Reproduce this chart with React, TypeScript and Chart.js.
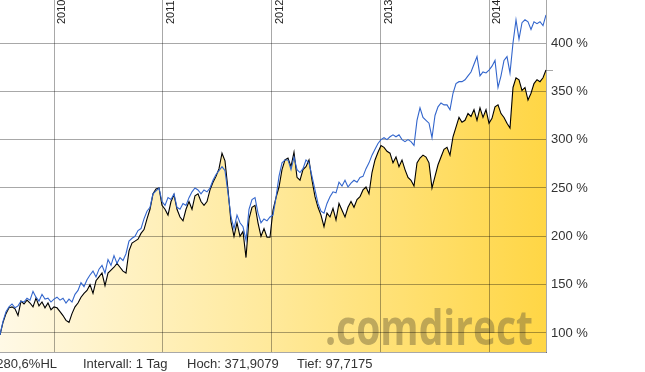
import React, { useEffect, useRef } from 'react';
import { Chart, registerables } from 'chart.js';

Chart.register(...registerables);

// ---- data ----
const yearTicks = [2010, 2011, 2012, 2013, 2014];
const yearLabels = ['2010', '2011', '2012', '2013', '2014'];
const percentTicks = [100, 150, 200, 250, 300, 350, 400];
const firstDate = 2009.504; // fractional year of first sample
const lastDate = 2014.519; // fractional year of last sample

// fund (black, filled), % of start
const fundValues = [
  98, 111, 120, 126, 127, 125, 118, 133, 130, 134,
  131, 127, 136, 128, 132, 126, 131, 124, 127, 126,
  122, 118, 113, 111, 120, 127, 131, 137, 141, 144,
  150, 141, 154, 158, 162, 149, 162, 165, 168, 172,
  168, 164, 162, 185, 193, 195, 197, 203, 207, 218,
  228, 244, 249, 250, 232, 228, 222, 236, 243, 228,
  220, 216, 228, 236, 228, 242, 244, 236, 232, 236,
  248, 256, 262, 270, 286, 278, 248, 215, 200, 214,
  200, 205, 178, 218, 230, 232, 214, 200, 208, 199,
  199, 227, 240, 251, 269, 279, 281, 272, 287, 261,
  258, 269, 272, 279, 258, 241, 230, 222, 210, 224,
  220, 229, 217, 234, 227, 220, 230, 236, 230, 238,
  241, 248, 251, 244, 266, 279, 287, 294, 292, 288,
  286, 276, 282, 272, 279, 269, 261, 258, 252, 276,
  281, 284, 282, 276, 250, 262, 274, 282, 290, 292,
  284, 303, 313, 323, 318, 320, 327, 324, 331, 320,
  333, 323, 331, 317, 322, 334, 336, 327, 323, 317,
  312, 354, 364, 362, 351, 354, 341, 348, 358, 362,
  360, 364, 372,
];

// benchmark (blue), % of start
const benchValues = [
  98, 112, 122, 127, 130, 126, 128, 133, 132, 136,
  134, 143, 137, 133, 140, 135, 136, 132, 135, 137,
  134, 136, 131, 135, 132, 140, 144, 152, 148, 155,
  160, 164, 158, 166, 170, 162, 176, 170, 180, 172,
  178, 175, 182, 195, 198, 200, 206, 208, 218, 226,
  230, 244, 247, 250, 236, 232, 240, 238, 244, 230,
  228, 234, 232, 240, 246, 250, 248, 244, 248, 246,
  250, 258, 264, 268, 272, 268, 245, 220, 208, 222,
  214, 210, 196, 228, 238, 240, 224, 214, 218, 216,
  220, 222, 240, 262, 276, 279, 279, 269, 282, 269,
  266, 270, 279, 276, 262, 248, 234, 226, 224, 234,
  241, 246, 245, 256, 252, 258, 251, 255, 258, 256,
  261, 262, 270, 276, 284, 290, 296, 300, 302, 300,
  303, 305, 303, 305, 300, 298, 300, 298, 294, 320,
  333, 323, 320, 317, 302, 325, 334, 338, 336, 336,
  331, 348, 358, 360, 360, 362, 366, 370, 378, 386,
  366, 370, 369, 372, 376, 382, 354, 366, 382, 386,
  369, 400, 424, 404, 421, 424, 422, 414, 422, 420,
  422, 418, 429,
];

const footerPerf = '280,6%HL';
const footerInterval = 'Intervall: 1 Tag';
const footerHigh = 'Hoch: 371,9079';
const footerLow = 'Tief: 97,7175';
const watermark = '.comdirect';

const toPoints = (vals: number[]) =>
  vals.map((v, i) => ({
    x: firstDate + (i * (lastDate - firstDate)) / (vals.length - 1),
    y: v,
  }));

const FONT = '"Liberation Sans", Arial, sans-serif';
const GRID = 'rgba(0,0,0,0.34)';

export default function App() {
  const ref = useRef<HTMLCanvasElement | null>(null);

  useEffect(() => {
    const canvas = ref.current;
    if (!canvas) return;

    const overlay = {
      id: 'overlay',
      beforeDraw(chart: any) {
        const { ctx, chartArea } = chart;
        ctx.save();
        ctx.beginPath();
        ctx.rect(chartArea.left, chartArea.top, chartArea.right - chartArea.left, chartArea.bottom - chartArea.top);
        ctx.clip();
        ctx.font = '700 48px "Open Sans", sans-serif';
        const w = ctx.measureText(watermark).width;
        const targetW = 208;
        ctx.translate(325, 345);
        ctx.scale(targetW / w, 1);
        ctx.fillStyle = 'rgba(120,105,60,0.48)';
        ctx.textBaseline = 'alphabetic';
        ctx.textAlign = 'left';
        ctx.fillText(watermark, 0, 0);
        ctx.restore();
      },
      afterDraw(chart: any) {
        const { ctx, chartArea, scales } = chart;
        const xs = scales.x;
        const ys = scales.y;
        ctx.save();
        // year labels, rotated
        ctx.font = `11px ${FONT}`;
        ctx.fillStyle = '#222';
        ctx.textAlign = 'left';
        ctx.textBaseline = 'alphabetic';
        yearTicks.forEach((yr, i) => {
          const px = xs.getPixelForValue(yr);
          ctx.save();
          ctx.translate(px + 11, 24);
          ctx.rotate(-Math.PI / 2);
          ctx.fillText(yearLabels[i], 0, 0);
          ctx.restore();
        });
        // last value marker
        const lastY = Math.round(ys.getPixelForValue(fundValues[fundValues.length - 1])) + 0.5;
        ctx.strokeStyle = GRID;
        ctx.lineWidth = 1;
        ctx.beginPath();
        ctx.moveTo(chartArea.right, lastY);
        ctx.lineTo(chartArea.right + 7, lastY);
        ctx.stroke();
        // footer
        ctx.font = `13px ${FONT}`;
        ctx.fillStyle = '#333';
        const by = 368;
        ctx.textAlign = 'right';
        ctx.fillText(footerPerf, 57, by);
        ctx.textAlign = 'left';
        ctx.fillText(footerInterval, 83, by);
        ctx.fillText(footerHigh, 187, by);
        ctx.fillText(footerLow, 297, by);
        ctx.restore();
      },
    };

    const gradientFill = (context: any) => {
      const chart = context.chart;
      const area = chart.chartArea;
      if (!area) return 'rgba(255,220,80,0.5)';
      const g = chart.ctx.createLinearGradient(area.left, 0, area.right, 0);
      g.addColorStop(0, '#fff9e6');
      g.addColorStop(0.5, '#ffe99a');
      g.addColorStop(1, '#ffd645');
      return g;
    };

    const chart = new Chart(canvas, {
      type: 'line',
      data: {
        datasets: [
          {
            label: 'Benchmark',
            data: toPoints(benchValues),
            borderColor: '#3366cc',
            borderWidth: 1.1,
            pointRadius: 0,
            fill: false,
            tension: 0,
          },
          {
            label: 'Fonds',
            data: toPoints(fundValues),
            borderColor: '#000000',
            borderWidth: 1.1,
            pointRadius: 0,
            fill: 'start',
            backgroundColor: gradientFill,
            tension: 0,
          },
        ],
      },
      options: {
        animation: false,
        responsive: false,
        layout: { padding: 0 },
        plugins: {
          legend: { display: false },
          tooltip: { enabled: false },
          filler: { drawTime: 'beforeDraw' },
        } as any,
        scales: {
          x: {
            type: 'linear',
            min: firstDate,
            max: lastDate,
            afterBuildTicks: (s: any) => {
              s.ticks = yearTicks.map((v) => ({ value: v }));
            },
            ticks: { display: false },
            grid: { color: GRID, drawTicks: false, lineWidth: 1 },
            border: { display: true, color: GRID },
            afterFit: (s: any) => {
              s.height = 20;
              s.paddingLeft = 0;
              s.paddingRight = 0;
              s.paddingTop = 0;
              s.paddingBottom = 0;
            },
          },
          y: {
            position: 'right',
            min: 80.3,
            max: 444.5,
            afterBuildTicks: (s: any) => {
              s.ticks = percentTicks.map((v) => ({ value: v }));
            },
            ticks: {
              callback: (v: any) => `${v} %`,
              font: { family: FONT, size: 13 },
              color: '#333',
              padding: 5,
            },
            grid: { color: GRID, drawTicks: false, lineWidth: 1 },
            border: { display: true, color: GRID },
            afterFit: (s: any) => {
              s.width = 99;
              s.paddingTop = 0;
              s.paddingBottom = 0;
              s.paddingLeft = 0;
              s.paddingRight = 0;
            },
          },
        },
      },
      plugins: [overlay],
    } as any);

    return () => {
      chart.destroy();
    };
  }, []);

  return (
    <div style={{ position: 'absolute', left: 0, top: 0, width: 645, height: 372, background: '#fff' }}>
      <canvas ref={ref} width={645} height={372} style={{ display: 'block', width: 645, height: 372 }} />
    </div>
  );
}
